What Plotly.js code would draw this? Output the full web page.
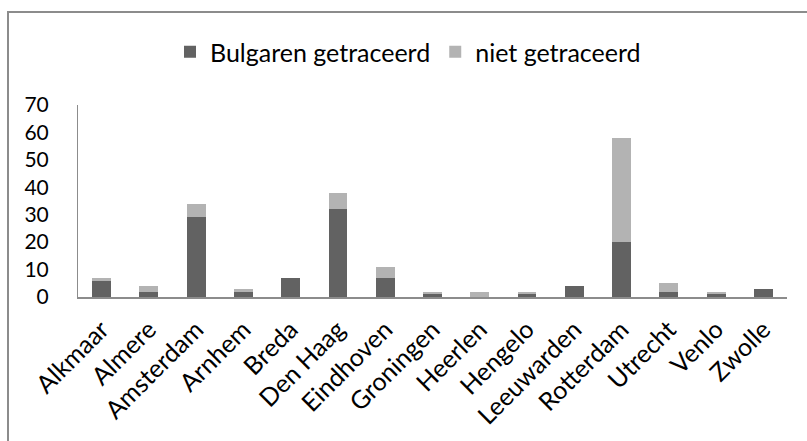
<!DOCTYPE html>
<html>
<head>
<meta charset="utf-8">
<script src="https://cdn.plot.ly/plotly-3.0.1.min.js"></script>
<style>
  html, body { margin: 0; padding: 0; background: #fff; }
  #chart { width: 807px; height: 441px; }
</style>
</head>
<body>
<div id="chart"></div>
<script>
// Steden en aantallen
const steden = ['Alkmaar', 'Almere', 'Amsterdam', 'Arnhem', 'Breda', 'Den Haag', 'Eindhoven',
  'Groningen', 'Heerlen', 'Hengelo', 'Leeuwarden', 'Rotterdam', 'Utrecht', 'Venlo', 'Zwolle'];
const getraceerd = [6, 2, 29, 2, 7, 32, 7, 1, 0, 1, 4, 20, 2, 1, 3];
const nietGetraceerd = [1, 2, 5, 1, 0, 6, 4, 1, 2, 1, 0, 38, 3, 1, 0];
const yTicks = [0, 10, 20, 30, 40, 50, 60, 70];

const fontFam = 'Lato, "Open Sans", sans-serif';

// plotgebied in pixels
const L = 78, R = 787, T = 105, B = 297;
const px = x => (x - L) / (R - L);
const py = y => (B - y) / (B - T);

const traces = [
  {
    x: steden, y: getraceerd, type: 'bar', name: 'Bulgaren getraceerd',
    marker: { color: '#626262' }, hoverinfo: 'x+y'
  },
  {
    x: steden, y: nietGetraceerd, type: 'bar', name: 'niet getraceerd',
    marker: { color: '#b3b3b3' }, hoverinfo: 'x+y'
  }
];

const layout = {
  width: 807, height: 441,
  margin: { l: L, r: 807 - R, t: T, b: 441 - B },
  barmode: 'stack',
  bargap: 0.6,
  paper_bgcolor: '#fff',
  plot_bgcolor: '#fff',
  font: { family: fontFam, color: '#000' },
  showlegend: true,
  legend: {
    orientation: 'h', x: px(408), xanchor: 'center', y: py(52), yanchor: 'middle',
    font: { size: 25, family: fontFam }, traceorder: 'normal'
  },
  xaxis: {
    type: 'category', tickangle: -45, showline: true, linecolor: '#8c8c8c', linewidth: 2,
    ticks: '', showgrid: false, zeroline: false, ticklabelstandoff: 6,
    tickfont: { size: 25, family: fontFam }
  },
  yaxis: {
    range: [0, 70], tickvals: yTicks, showline: true, linecolor: '#8c8c8c', linewidth: 1,
    ticks: '', showgrid: false, zeroline: false, ticklabelstandoff: 24,
    tickfont: { size: 21, family: fontFam }
  },
  shapes: [{
    type: 'rect', xref: 'paper', yref: 'paper',
    x0: px(8), x1: px(830), y0: py(470), y1: py(12),
    line: { color: '#8c8c8c', width: 2 }, layer: 'below'
  }]
};

Plotly.newPlot('chart', traces, layout, { displayModeBar: false, staticPlot: true });
</script>
</body>
</html>
